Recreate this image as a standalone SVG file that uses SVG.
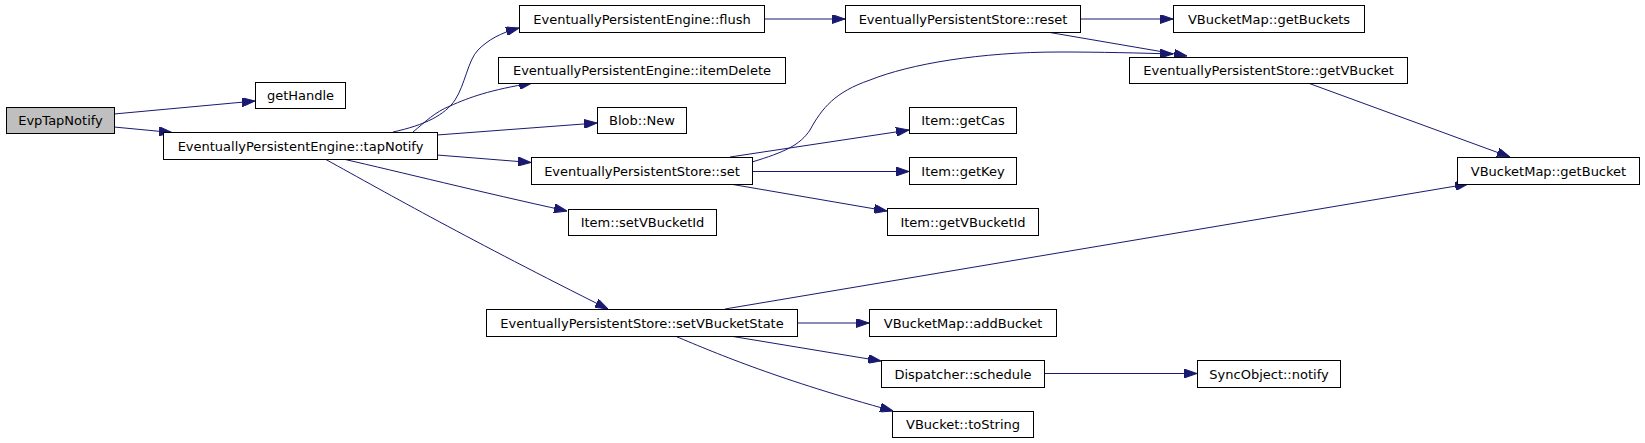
<svg xmlns="http://www.w3.org/2000/svg" width="1645" height="443" viewBox="0 0 1645 443">
<style>
.n rect{fill:#fff;stroke:#000;stroke-width:1}
.n.root rect{fill:#bfbfbf}
.n text{font-family:"DejaVu Sans",sans-serif;font-size:13px;fill:#000;text-anchor:middle}
.e path{fill:none;stroke:#191970;stroke-width:1;marker-end:url(#ah)}
</style>
<defs>
<marker id="ah" markerUnits="userSpaceOnUse" markerWidth="13" markerHeight="9" viewBox="0 0 13 9" refX="13" refY="4.5" orient="auto">
<path d="M0,0 L13,4.5 L0,9 Z" fill="#191970" stroke="#191970" stroke-width="1"/>
</marker>
</defs>
<rect width="1645" height="443" fill="#fff"/>
<g id="edges" class="e">
<path d="M114,114 L255,101"/>
<path d="M114,127 L172,132.5"/>
<path d="M393,132 C425,125 445,115 455,100 C465,85 468,60 478,50 C488,40 500,33 519,28"/>
<path d="M413,132 C425,122 435,112 450,106 C470,97 490,90 532,83"/>
<path d="M437,135 L597,123"/>
<path d="M437,155 L531,162.5"/>
<path d="M343,159 C400,172 480,192 567,211"/>
<path d="M325,159 C390,195 470,240 608,309"/>
<path d="M764,19 L845,19"/>
<path d="M1080,19 L1173,19"/>
<path d="M1047,32 L1187,56"/>
<path d="M752,162 C785,152 800,145 810,130 C822,108 835,92 870,80 C910,64 980,52 1060,52 C1100,52 1140,53 1173,54"/>
<path d="M1308,83 L1510,157"/>
<path d="M730,157 L909,130"/>
<path d="M752,171.5 L909,171.5"/>
<path d="M730,184 L887,211"/>
<path d="M725,309 L1468,184"/>
<path d="M797,323 L869,323"/>
<path d="M730,336 L881,361"/>
<path d="M675,336 C720,355 780,380 893,411"/>
<path d="M1044,373.5 L1197,373.5"/>
</g>
<g id="EvpTapNotify" class="n root"><rect x="6.5" y="107.5" width="108" height="26"/><text x="60.5" y="125">EvpTapNotify</text></g>
<g id="getHandle" class="n"><rect x="255.5" y="82.5" width="90" height="26"/><text x="300.5" y="100">getHandle</text></g>
<g id="tapNotify" class="n"><rect x="163.5" y="132.5" width="274" height="27"/><text x="300.5" y="150.5">EventuallyPersistentEngine::tapNotify</text></g>
<g id="flush" class="n"><rect x="519.5" y="5.5" width="245" height="27"/><text x="642" y="23.5">EventuallyPersistentEngine::flush</text></g>
<g id="itemDelete" class="n"><rect x="498.5" y="57.5" width="287" height="26"/><text x="642" y="75">EventuallyPersistentEngine::itemDelete</text></g>
<g id="BlobNew" class="n"><rect x="597.5" y="107.5" width="89" height="26"/><text x="642" y="125">Blob::New</text></g>
<g id="set" class="n"><rect x="531.5" y="157.5" width="221" height="27"/><text x="642" y="175.5">EventuallyPersistentStore::set</text></g>
<g id="setVBucketId" class="n"><rect x="568.5" y="209.5" width="148" height="26"/><text x="642.5" y="227">Item::setVBucketId</text></g>
<g id="setVBucketState" class="n"><rect x="486.5" y="309.5" width="311" height="27"/><text x="642" y="327.5">EventuallyPersistentStore::setVBucketState</text></g>
<g id="reset" class="n"><rect x="845.5" y="5.5" width="235" height="27"/><text x="963" y="23.5">EventuallyPersistentStore::reset</text></g>
<g id="getBuckets" class="n"><rect x="1173.5" y="5.5" width="191" height="27"/><text x="1269" y="23.5">VBucketMap::getBuckets</text></g>
<g id="getVBucket" class="n"><rect x="1129.5" y="57.5" width="278" height="26"/><text x="1268.5" y="75">EventuallyPersistentStore::getVBucket</text></g>
<g id="getCas" class="n"><rect x="909.5" y="107.5" width="107" height="26"/><text x="963" y="125">Item::getCas</text></g>
<g id="getKey" class="n"><rect x="909.5" y="157.5" width="107" height="27"/><text x="963" y="175.5">Item::getKey</text></g>
<g id="getVBucketId" class="n"><rect x="887.5" y="208.5" width="151" height="27"/><text x="963" y="226.5">Item::getVBucketId</text></g>
<g id="getBucket" class="n"><rect x="1457.5" y="157.5" width="182" height="27"/><text x="1548.5" y="175.5">VBucketMap::getBucket</text></g>
<g id="addBucket" class="n"><rect x="869.5" y="309.5" width="187" height="27"/><text x="963" y="327.5">VBucketMap::addBucket</text></g>
<g id="schedule" class="n"><rect x="881.5" y="360.5" width="163" height="27"/><text x="963" y="378.5">Dispatcher::schedule</text></g>
<g id="toString" class="n"><rect x="892.5" y="411.5" width="141" height="26"/><text x="963" y="429">VBucket::toString</text></g>
<g id="notify" class="n"><rect x="1197.5" y="360.5" width="143" height="27"/><text x="1269" y="378.5">SyncObject::notify</text></g>
</svg>
